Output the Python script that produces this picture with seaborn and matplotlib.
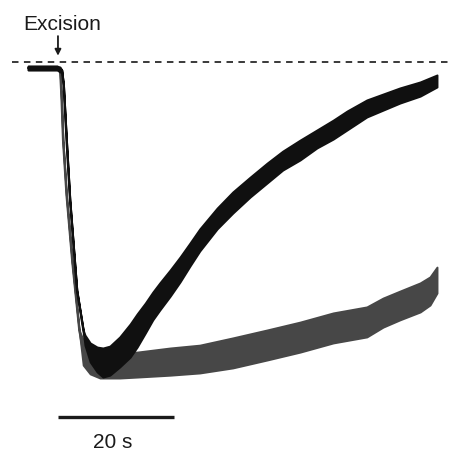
import numpy as np
import pandas as pd
import matplotlib
matplotlib.use("Agg")
import matplotlib.pyplot as plt
import seaborn as sns

# Time after excision (s) and signal (% of pre-excision level).
# Each trace is stored as an upper and a lower envelope of the noisy record.
black_t = [-5.5, -0.5, 0.0, 0.3, 0.6, 0.9, 1.2, 1.7, 2.9, 4.0,
           4.3, 5.2, 6.4, 7.4, 8.6, 10.3, 12.1, 13.3, 14.7, 16.0, 17.2,
           19.0, 20.7, 22.4, 24.1, 27.1, 29.8, 32.8, 35.7, 38.4, 41.4,
           44.3, 47.1, 49.5, 52.9, 58.6, 62.1, 65.0]
black_hi = [98.7, 98.7, 98.4, 97.5, 92.7, 82.3, 72.2, 56.3, 27.8, 15.2,
            13.6, 11.1, 9.8, 9.5, 10.1, 13.0, 17.1, 20.3, 23.7, 27.2, 30.1,
            34.2, 38.3, 42.7, 47.2, 53.8, 58.9, 63.6, 68.0, 71.8, 75.3,
            78.5, 81.6, 84.5, 88.0, 91.8, 93.7, 95.9]
black_lo = [97.5, 97.5, 96.8, 97.5, 92.7, 82.3, 72.2, 56.3, 27.8, 15.2,
            10.4, 5.1, 1.9, 0.3, 0.9, 3.5, 6.6, 9.8, 14.2, 18.4, 21.5,
            25.9, 30.4, 35.4, 40.2, 47.2, 52.2, 57.3, 61.7, 65.8, 69.0,
            72.8, 75.6, 78.5, 82.6, 87.0, 89.2, 92.1]

gray_t = [-5.5, -0.5, 0.0, 0.25, 0.5, 1.1, 2.1, 3.3,
          4.0, 5.2, 6.9, 10.3, 13.3, 19.0, 24.1, 29.8, 35.7, 41.4,
          47.1, 52.9, 55.7, 58.6, 62.1, 63.8, 65.0]
gray_hi = [98.7, 98.7, 97.5, 88.0, 75.3, 57.9, 36.7, 15.2,
           12.0, 9.5, 8.9, 8.2, 8.2, 9.5, 10.4, 12.7, 15.2, 17.7,
           20.6, 22.5, 25.3, 27.5, 30.1, 32.0, 35.1]
gray_lo = [97.5, 97.5, 97.5, 88.0, 75.3, 57.9, 36.7, 15.2,
           4.1, 1.3, 0.0, 0.0, 0.3, 0.9, 1.6, 3.2, 5.7, 8.2,
           11.1, 13.0, 16.1, 18.4, 20.9, 23.1, 26.9]

baseline_level = 100.0
excision_time = -0.35
scale_bar_s = 20


def envelope_frame(t, hi, lo):
    return pd.DataFrame({"t": list(t) + list(t), "v": list(hi) + list(lo)})


sns.set_theme(style="white")
plt.rcParams["font.family"] = ["Liberation Sans", "DejaVu Sans"]

fig = plt.figure(figsize=(4.61, 4.50), dpi=100)
ax = fig.add_axes([0, 0, 1, 1])

gray_c = "#474747"
black_c = "#101010"

for z, (t, hi, lo, c) in enumerate([(gray_t, gray_hi, gray_lo, gray_c),
                                    (black_t, black_hi, black_lo, black_c)]):
    sns.lineplot(data=envelope_frame(t, hi, lo), x="t", y="v",
                 estimator="mean", errorbar=("pi", 100), color=c,
                 linewidth=1.4, zorder=2 + 2 * z + 0.5,
                 err_kws={"alpha": 1, "linewidth": 1.4, "edgecolor": c,
                          "facecolor": c, "zorder": 2 + 2 * z},
                 ax=ax)

# pre-excision level
ax.plot([-8.28, 67.24], [baseline_level, baseline_level], color="#2a2a2a",
        lw=1.3, linestyle=(0, (3.6, 3.0)))

# excision marker
ax.annotate("", xy=(excision_time, 102.0), xytext=(excision_time, 108.2),
            arrowprops=dict(arrowstyle="-|>", color="#1a1a1a", lw=1.3,
                            mutation_scale=9, shrinkA=0, shrinkB=0))
ax.text(0.43, 110.1, "Excision", ha="center", va="baseline",
        fontsize=15, color="#1a1a1a")

# time scale bar
ax.plot([-0.35, -0.35 + scale_bar_s], [-12.3, -12.3], color="#1a1a1a",
        lw=2.4, solid_capstyle="butt")
ax.text(9.0, -22.0, f"{scale_bar_s} s", ha="center", va="baseline",
        fontsize=15, color="#1a1a1a")

ax.set_xlim(-10.345, 69.14)
ax.set_ylim(-22.78, 119.62)
ax.set_axis_off()
legend = ax.get_legend()
if legend is not None:
    legend.remove()

fig.savefig("out.png", dpi=100)
